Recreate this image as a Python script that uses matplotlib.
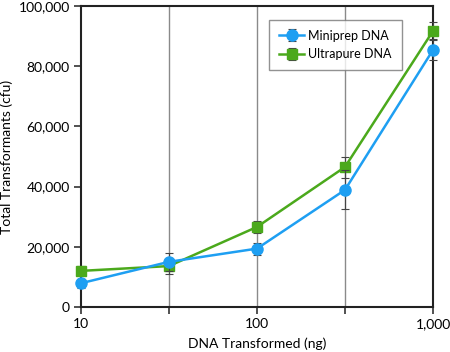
import numpy as np
import matplotlib.pyplot as plt
from matplotlib.ticker import FixedLocator, FuncFormatter

plt.rcParams['font.family'] = ['Lato', 'DejaVu Sans']

# Data
dna_ng = [10, 31.6, 100, 316, 1000]
miniprep = [7900, 15000, 19400, 38900, 85400]
miniprep_err = [1500, 3000, 2000, 6500, 3500]
ultrapure = [12000, 13600, 26600, 46500, 91700]
ultrapure_err = [1500, 2500, 2000, 3500, 3000]

blue = '#1e9ff2'
green = '#4ba91c'

fig = plt.figure(figsize=(4.5, 3.52), dpi=100)
ax = fig.add_axes([81 / 450, 1 - 307 / 352, (433 - 81) / 450, (307 - 6) / 352])

ax.set_xscale('log')
ax.set_xlim(10, 1000)
ax.set_ylim(0, 100000)

# vertical grid lines at the data positions
for x in dna_ng[1:-1]:
    ax.axvline(x, color='#8a8a8a', lw=1.0, zorder=1)

ax.errorbar(dna_ng, ultrapure, yerr=ultrapure_err, color=green, lw=1.8,
            marker='s', ms=7, ecolor='#444444', elinewidth=0.8, capsize=3,
            capthick=0.8, label='Ultrapure DNA', zorder=3, clip_on=False)
ax.errorbar(dna_ng, miniprep, yerr=miniprep_err, color=blue, lw=1.8,
            marker='o', ms=8, ecolor='#444444', elinewidth=0.8, capsize=3,
            capthick=0.8, label='Miniprep DNA', zorder=4, clip_on=False)

ax.xaxis.set_major_locator(FixedLocator([10, 100, 1000]))
ax.xaxis.set_minor_locator(FixedLocator([31.6, 316]))
ax.xaxis.set_major_formatter(FuncFormatter(lambda v, p: f'{int(v):,}'))
ax.xaxis.set_minor_formatter(FuncFormatter(lambda v, p: ''))
ax.set_yticks([0, 20000, 40000, 60000, 80000, 100000])
ax.yaxis.set_major_formatter(FuncFormatter(lambda v, p: f'{int(v):,}'))

ax.tick_params(axis='both', which='both', direction='out', length=5, width=1.2,
               labelsize=10, color='#333333', pad=3)
for s in ax.spines.values():
    s.set_linewidth(1.5)
    s.set_color('#222222')

ax.set_xlabel('DNA Transformed (ng)', fontsize=10, labelpad=5)
ax.set_ylabel('Total Transformants (cfu)', fontsize=10, labelpad=4)

h, l = ax.get_legend_handles_labels()
leg = ax.legend(h[::-1], l[::-1], loc='upper left', bbox_to_anchor=(0.535, 0.955),
                fontsize=9, frameon=True, fancybox=False, edgecolor='#777777',
                handlelength=2.0, handletextpad=0.3, borderpad=0.8,
                labelspacing=0.55, borderaxespad=0)
leg.get_frame().set_linewidth(1.0)

fig.savefig('out.png', dpi=100)
